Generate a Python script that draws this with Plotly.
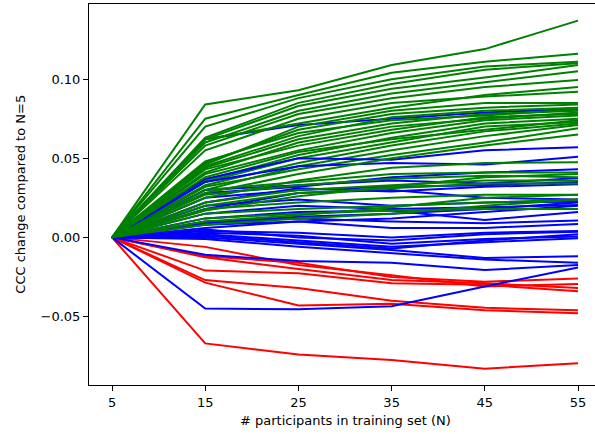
import plotly.graph_objects as go

# x positions: number of participants in training set
n_participants = [5, 15, 25, 35, 45, 55]
x_tick_labels = ["5", "15", "25", "35", "45", "55"]
y_tick_values = [-0.05, 0.0, 0.05, 0.10]

# CCC change compared to N=5 (green = improving)
green_series = [
    [0, 0.084, 0.093, 0.109, 0.119, 0.137],
    [0, 0.075, 0.090, 0.104, 0.111, 0.116],
    [0, 0.070, 0.088, 0.100, 0.108, 0.111],
    [0, 0.063, 0.085, 0.097, 0.106, 0.110],
    [0, 0.062, 0.083, 0.094, 0.101, 0.109],
    [0, 0.060, 0.080, 0.091, 0.098, 0.105],
    [0, 0.058, 0.078, 0.088, 0.095, 0.0995],
    [0, 0.062, 0.072, 0.082, 0.090, 0.095],
    [0, 0.055, 0.075, 0.085, 0.089, 0.092],
    [0, 0.046, 0.070, 0.080, 0.085, 0.085],
    [0, 0.047, 0.068, 0.078, 0.082, 0.084],
    [0, 0.045, 0.064, 0.076, 0.080, 0.082],
    [0, 0.044, 0.062, 0.072, 0.078, 0.080],
    [0, 0.043, 0.058, 0.068, 0.076, 0.078],
    [0, 0.040, 0.055, 0.066, 0.074, 0.077],
    [0, 0.036, 0.052, 0.063, 0.072, 0.075],
    [0, 0.035, 0.050, 0.060, 0.070, 0.073],
    [0, 0.033, 0.047, 0.058, 0.067, 0.072],
    [0, 0.030, 0.045, 0.055, 0.064, 0.071],
    [0, 0.032, 0.043, 0.052, 0.060, 0.069],
    [0, 0.028, 0.040, 0.050, 0.058, 0.065],
    [0, 0.025, 0.036, 0.044, 0.047, 0.0475],
    [0, 0.030, 0.035, 0.040, 0.041, 0.041],
    [0, 0.027, 0.033, 0.037, 0.039, 0.038],
    [0, 0.022, 0.030, 0.033, 0.036, 0.036],
    [0, 0.020, 0.028, 0.031, 0.034, 0.034],
    [0, 0.018, 0.022, 0.025, 0.027, 0.027],
    [0, 0.015, 0.018, 0.020, 0.022, 0.024],
    [0, 0.012, 0.015, 0.017, 0.018, 0.018],
    [0, 0.010, 0.014, 0.019, 0.025, 0.027],
    [0, 0.008, 0.012, 0.015, 0.020, 0.024],
    [0, 0.041, 0.060, 0.070, 0.075, 0.079],
    [0, 0.038, 0.054, 0.062, 0.068, 0.074],
    [0, 0.048, 0.066, 0.074, 0.077, 0.081],
    [0, 0.017, 0.026, 0.032, 0.038, 0.040],
]

# blue = roughly unchanged
blue_series = [
    [0, 0.062, 0.071, 0.075, 0.079, 0.081],
    [0, 0.037, 0.050, 0.049, 0.055, 0.057],
    [0, 0.035, 0.045, 0.047, 0.046, 0.051],
    [0, 0.028, 0.032, 0.038, 0.041, 0.043],
    [0, 0.030, 0.033, 0.036, 0.034, 0.0375],
    [0, 0.025, 0.030, 0.032, 0.033, 0.035],
    [0, 0.022, 0.031, 0.029, 0.032, 0.0335],
    [0, 0.018, 0.028, 0.030, 0.025, 0.024],
    [0, 0.020, 0.024, 0.020, 0.022, 0.0225],
    [0, 0.015, 0.020, 0.018, 0.019, 0.0205],
    [0, 0.009, 0.013, 0.015, 0.018, 0.022],
    [0, 0.012, 0.016, 0.017, 0.011, 0.016],
    [0, 0.006, 0.010, 0.012, 0.016, 0.020],
    [0, 0.010, 0.012, 0.010, 0.009, 0.0106],
    [0, 0.008, 0.010, 0.006, 0.006, 0.0085],
    [0, 0.004, 0.003, 0.000, 0.003, 0.004],
    [0, 0.005, 0.000, -0.002, 0.002, 0.0036],
    [0, 0.003, 0.001, -0.004, -0.001, 0.0005],
    [0, 0.001, -0.003, -0.007, -0.002, 0.002],
    [0, 0.002, -0.002, -0.006, -0.003, -0.0005],
    [0, 0.000, -0.004, -0.008, -0.013, -0.012],
    [0, -0.001, -0.006, -0.010, -0.014, -0.016],
    [0, -0.011, -0.015, -0.016, -0.0206, -0.0175],
    [0, -0.045, -0.0455, -0.0435, -0.031, -0.019],
]

# red = getting worse
red_series = [
    [0, -0.067, -0.074, -0.0775, -0.083, -0.0795],
    [0, -0.0286, -0.043, -0.042, -0.046, -0.048],
    [0, -0.027, -0.032, -0.040, -0.0445, -0.046],
    [0, -0.021, -0.0227, -0.029, -0.030, -0.034],
    [0, -0.0126, -0.020, -0.027, -0.029, -0.032],
    [0, -0.006, -0.0175, -0.024, -0.031, -0.0295],
    [0, -0.012, -0.016, -0.025, -0.028, -0.026],
]

fig = go.Figure()

def add_group(series, color):
    for ys in series:
        fig.add_trace(go.Scatter(x=n_participants, y=ys, mode="lines",
                                 line=dict(color=color, width=2),
                                 showlegend=False, hoverinfo="skip"))

# interleave drawing order a bit like the original
add_group(red_series, "#ff0000")
add_group(blue_series[:1], "#0000ff")
add_group(blue_series[10:], "#0000ff")
add_group(green_series[:20], "#008000")
add_group(blue_series[1:10], "#0000ff")
add_group(green_series[20:], "#008000")

fig.update_layout(
    width=595, height=434,
    margin=dict(l=89, r=0, t=4, b=49),
    paper_bgcolor="white", plot_bgcolor="white",
    font=dict(family="DejaVu Sans", size=13, color="black"),
    xaxis=dict(range=[2.53, 56.82], tickvals=n_participants, ticktext=x_tick_labels,
               showgrid=False, zeroline=False, showline=True, mirror=True,
               linecolor="black", linewidth=1, ticks="outside", ticklen=5,
               tickcolor="black", tickfont=dict(size=13)),
    yaxis=dict(range=[-0.0933, 0.1475], tickvals=y_tick_values, tickformat=".2f",
               showgrid=False, zeroline=False, showline=True, mirror=False,
               linecolor="black", linewidth=1, ticks="outside", ticklen=5,
               tickcolor="black", tickfont=dict(size=13)),
    annotations=[
        dict(text="# participants in training set (N)", x=0.506, y=-0.092,
             xref="paper", yref="paper", xanchor="center", yanchor="middle",
             showarrow=False, font=dict(size=13)),
        dict(text="CCC change compared to N=5", x=-0.136, y=0.5, textangle=-90,
             xref="paper", yref="paper", xanchor="center", yanchor="middle",
             showarrow=False, font=dict(size=13)),
    ],
)

fig.write_html("out.html", config={"displayModeBar": False},
               post_script="document.body.style.margin='0px';document.body.style.overflow='hidden';")
